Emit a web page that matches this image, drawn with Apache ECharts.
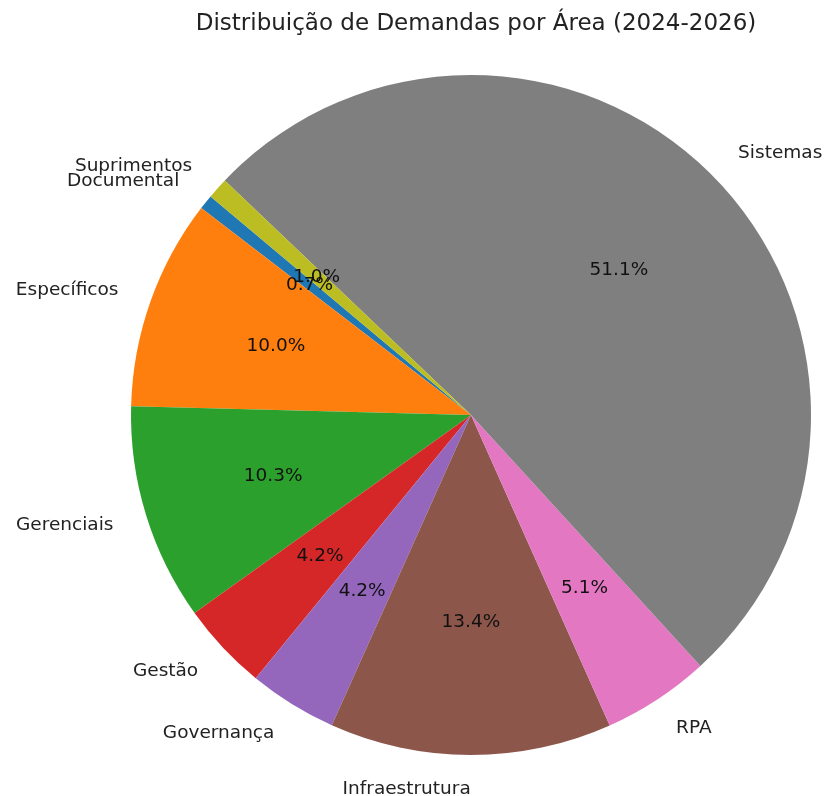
<!DOCTYPE html>
<html>
<head>
<meta charset="utf-8">
<script src="https://cdn.jsdelivr.net/npm/echarts@6/dist/echarts.min.js"></script>
<style>
  html, body { margin: 0; padding: 0; background: #fff; }
  #chart { width: 829px; height: 796px; }
</style>
</head>
<body>
<div id="chart"></div>
<script>
const categories = ["Documental", "Específicos", "Gerenciais", "Gestão", "Governança",
  "Infraestrutura", "RPA", "Sistemas", "Suprimentos"];
const shares = [0.7, 10.0, 10.3, 4.2, 4.2, 13.4, 5.1, 51.1, 1.0];
const colors = ["#1f77b4", "#ff7f0e", "#2ca02c", "#d62728", "#9467bd",
  "#8c564b", "#e377c2", "#7f7f7f", "#bcbd22"];

const FONT = "DejaVu Sans";
const center = [471, 415];
const R = 340;

const data = categories.map((name, i) => ({
  name: name,
  value: shares[i],
  itemStyle: { color: colors[i] }
}));

const chart = echarts.init(document.getElementById("chart"));

chart.setOption({
  animation: false,
  title: {
    text: "Distribuição de Demandas por Área (2024-2026)",
    left: center[0],
    textAlign: "center",
    top: 8,
    textStyle: { fontFamily: FONT, fontSize: 23, fontWeight: "normal", color: "#222" }
  },
  series: [
    {
      // slices + outside category labels
      type: "pie",
      center: center,
      radius: [0, R],
      startAngle: 140,
      clockwise: false,
      avoidLabelOverlap: false,
      emphasis: { disabled: true },
      labelLayout: { hideOverlap: false },
      label: {
        show: true,
        position: "outside",
        formatter: "{b}",
        fontFamily: FONT,
        fontSize: 18.5,
        color: "#222",
        distanceToLabelLine: 0,
        padding: 0
      },
      labelLine: { show: false, length: R * 0.1, length2: 0 },
      data: data
    },
    {
      // invisible ring used to place percentages at 0.6 R
      type: "pie",
      center: center,
      radius: [0, R * 1.2],
      startAngle: 140,
      clockwise: false,
      silent: true,
      avoidLabelOverlap: false,
      labelLayout: { hideOverlap: false },
      itemStyle: { color: "rgba(0,0,0,0)" },
      label: {
        show: true,
        position: "inner",
        formatter: p => p.value.toFixed(1) + "%",
        fontFamily: FONT,
        fontSize: 18.5,
        color: "#111"
      },
      labelLine: { show: false },
      data: data.map(d => ({ name: d.name, value: d.value, itemStyle: { color: "rgba(0,0,0,0)" } })),
      z: 3
    }
  ]
});
</script>
</body>
</html>
